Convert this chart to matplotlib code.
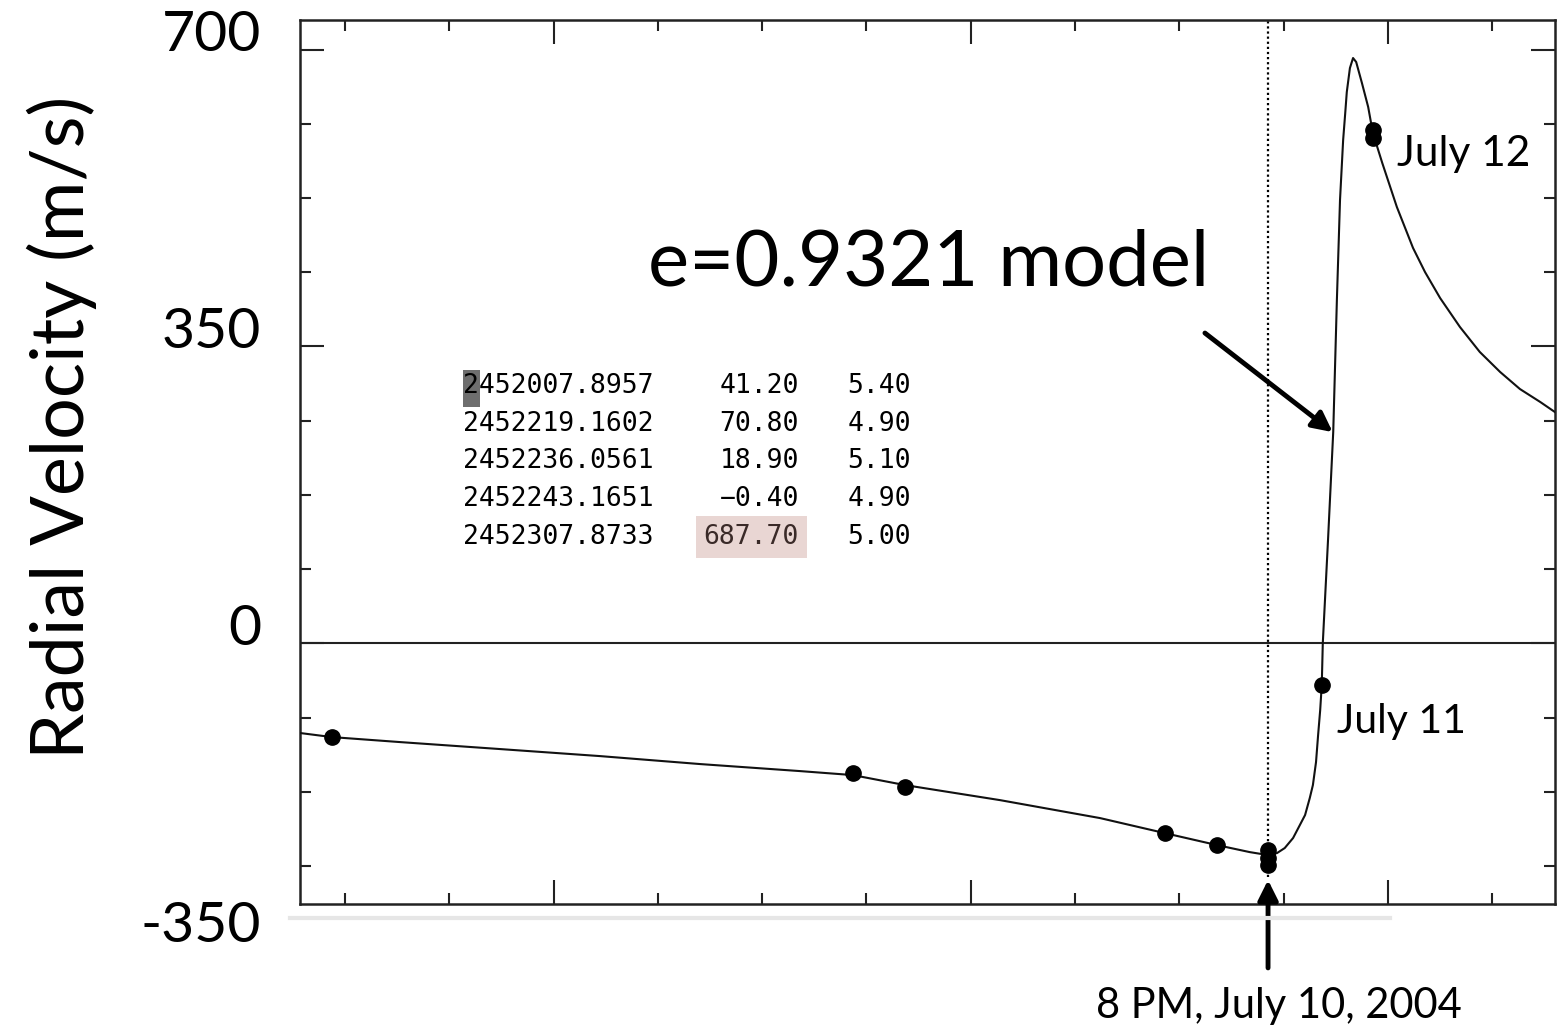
import matplotlib.pyplot as plt
from matplotlib.ticker import MultipleLocator, FixedLocator
from matplotlib.lines import Line2D
from matplotlib.patches import Rectangle

# ---- data (x in days, y in m/s) ----
model_days = [-0.86, -0.25, 1.06, 2.97, 4.89, 6.81, 8.73, 9.74, 10.74, 12.56,
              14.48, 15.72, 16.72, 17.35, 17.70, 17.87, 18.02, 18.18, 18.31,
              18.41, 18.50, 18.56, 18.62, 18.66, 18.70, 18.73, 18.75, 18.85,
              18.95, 19.02, 19.08, 19.14, 19.18, 19.21, 19.27, 19.33, 19.39,
              19.50, 19.62, 19.71, 19.89, 20.17, 20.48, 20.71, 21.00, 21.38,
              21.76, 22.15, 22.53, 22.92, 23.20]
model_rv = [-105.7, -110.5, -116.4, -124.6, -132.9, -142.3, -150.6, -155.3,
            -167.1, -184.8, -206.0, -223.7, -237.8, -246.1, -249.6, -247.3,
            -241.3, -229.5, -214.2, -202.4, -182.4, -167.1, -140.0, -108.1,
            -78.6, -49.1, 0.4, 121.8, 249.2, 404.7, 522.6, 593.3, 625.1,
            649.9, 678.2, 690.0, 685.3, 660.6, 632.3, 601.7, 566.3, 514.4,
            466.1, 437.7, 407.0, 372.9, 343.5, 319.9, 299.8, 284.5, 272.7]

obs_days = [-0.25, 9.74, 10.74, 15.72, 16.72, 17.70, 17.70, 17.70, 18.73, 19.71, 19.71]
obs_rv = [-110.5, -152.9, -169.4, -223.7, -237.8, -243.7, -253.1, -261.4, -49.1, 605.1, 595.6]

july10_day = 17.70
ytick_values = [700, 350, 0, -350]

table_rows = [
    ["2452007.8957", "41.20", "5.40"],
    ["2452219.1602", "70.80", "4.90"],
    ["2452236.0561", "18.90", "5.10"],
    ["2452243.1651", "\u22120.40", "4.90"],
    ["2452307.8733", "687.70", "5.00"],
]

SANS = ["Lato", "DejaVu Sans"]
MONO = "DejaVu Sans Mono"

fig = plt.figure(figsize=(15.58, 10.32), dpi=100)
ax = fig.add_axes([0.1926, 0.124, 0.8054, 0.8566])

ax.set_xlim(-0.86, 23.20)
ax.set_ylim(-307.3, 734.8)

# model curve and observations
ax.plot(model_days, model_rv, color="#111111", lw=1.5, zorder=3)
ax.plot(obs_days, obs_rv, "o", color="black", ms=11, zorder=4)

# zero line and dotted marker line
ax.axhline(0, color="#222222", lw=1.5, zorder=2)
ax.vlines(july10_day, -275, 734.8, colors="black", linestyles=(0, (1, 1.3)),
          lw=1.6, zorder=2, clip_on=False)

# gnuplot-like inward ticks on all sides, no labels
ax.xaxis.set_major_locator(FixedLocator([4, 12, 20]))
ax.xaxis.set_minor_locator(MultipleLocator(2))
ax.yaxis.set_major_locator(MultipleLocator(350))
ax.yaxis.set_minor_locator(MultipleLocator(87.5))
ax.tick_params(which="both", direction="in", top=True, right=True,
               labelbottom=False, labelleft=False, width=1.5, color="#222222")
ax.tick_params(which="major", length=17)
ax.tick_params(which="minor", length=8)
for s in ax.spines.values():
    s.set_linewidth(1.8)
    s.set_color("#222222")

# y value labels (slide-style)
for v in ytick_values:
    ax.annotate(str(v), xy=(0, v), xycoords=ax.get_yaxis_transform(),
                xytext=(-28, 10), textcoords="offset points",
                ha="right", va="center", fontsize=41, family=SANS,
                annotation_clip=False)

fig.text(0.04, 0.586, "Radial Velocity (m/s)", rotation=90, ha="center",
         va="center", fontsize=53, family=SANS)

# data table (monospace)
row_y = [0.586, 0.543, 0.501, 0.458, 0.415]
ax.add_patch(Rectangle((0.1299, 0.5622), 0.01355, 0.0419, transform=ax.transAxes,
                       fc="#6e6e6e", ec="none", zorder=1))
for i, (jd, rv, err) in enumerate(table_rows):
    y = row_y[i]
    ax.text(0.1299, y, jd, transform=ax.transAxes, ha="left", va="center",
            fontsize=19, family=MONO)
    if i == 4:
        ax.text(0.3976, y, rv, transform=ax.transAxes, ha="right", va="center",
                fontsize=19, family=MONO, color="#3a2a28",
                bbox=dict(boxstyle="square,pad=0.3", fc="#e9d6d3", ec="none"))
    else:
        ax.text(0.3976, y, rv, transform=ax.transAxes, ha="right", va="center",
                fontsize=19, family=MONO)
    ax.text(0.4869, y, err, transform=ax.transAxes, ha="right", va="center",
            fontsize=19, family=MONO)

# annotations
ax.text(5.81, 422.0, "e=0.9321 model", ha="left", va="baseline", fontsize=56,
        family=SANS)
ax.annotate("", xy=(18.94, 249.0), xytext=(16.49, 365.8),
            arrowprops=dict(arrowstyle="-|>", lw=3.5, color="black",
                            mutation_scale=30, shrinkA=0, shrinkB=0))
ax.text(20.17, 563.0, "July 12", ha="left", va="baseline", fontsize=30.5,
        family=SANS)
ax.text(19.02, -105.7, "July 11", ha="left", va="baseline", fontsize=29.5,
        family=SANS)
ax.text(17.91, -441.7, "8 PM, July 10, 2004", ha="center", va="baseline",
        fontsize=30, family=SANS, clip_on=False)
ax.annotate("", xy=(july10_day, -279), xytext=(july10_day, -382.6),
            arrowprops=dict(arrowstyle="-|>", lw=3.5, color="black",
                            mutation_scale=30, shrinkA=0, shrinkB=0),
            annotation_clip=False)

# faint strip under the frame
fig.add_artist(Line2D([0.186, 0.892], [0.1105, 0.1105], color="#e6e6e6",
                      lw=3, transform=fig.transFigure))

fig.savefig("out.png", dpi=100)
